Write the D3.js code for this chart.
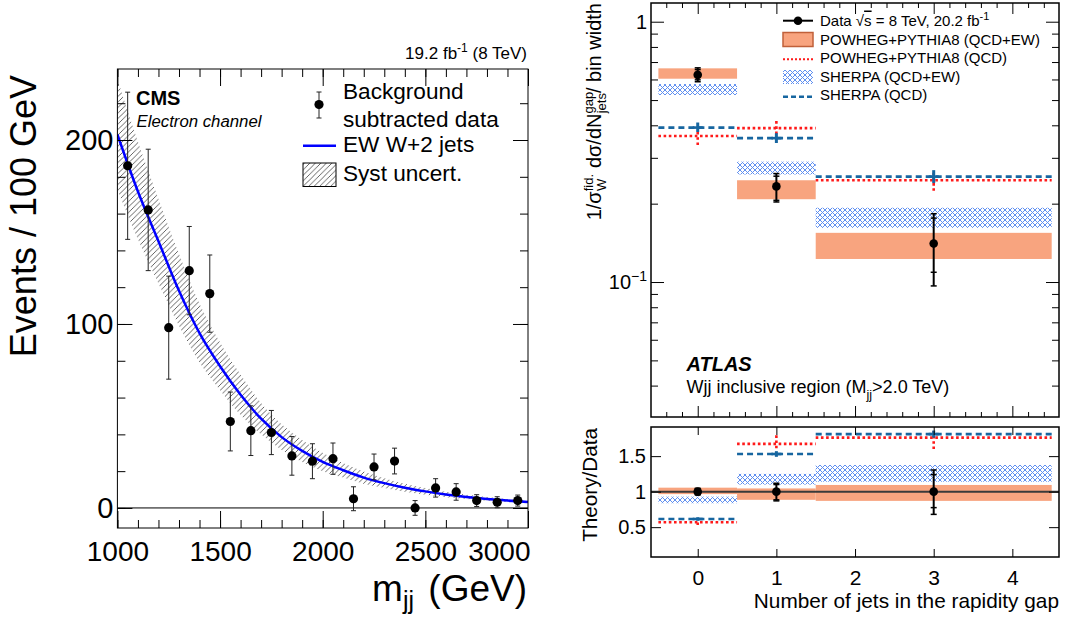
<!DOCTYPE html>
<html lang="en">
<head>
<meta charset="UTF-8">
<title>EW W+2 jets: CMS mjj and ATLAS rapidity gap jets</title>
<script src="https://d3js.org/d3.v7.min.js"></script>
<style>
  body { margin: 0; background: #fff; }
  svg { display: block; font-family: 'Liberation Sans', Arial, Helvetica, sans-serif; }
  .axis path.domain { display: none; }
  .axis line { stroke: #000; stroke-width: 1; }
</style>
</head>
<body>
<svg id="chart" width="1066" height="619"></svg>
<script>
// ---------- left panel data (CMS, electron channel) ----------
const mjjBins   = [1050, 1150, 1250, 1350, 1450, 1550, 1650, 1750, 1850, 1950,
                   2050, 2150, 2250, 2350, 2450, 2550, 2650, 2750, 2850, 2950];
const evData    = [186, 162, 98, 129, 116.5, 47, 42, 41, 28.3, 25.4,
                   26.8, 5, 22.3, 25.5, 0, 10.9, 8.7, 4, 3.1, 4];
const evErr     = [40, 33, 28, 24, 21, 16, 13.5, 12, 10.5, 9.5,
                   8.5, 6.5, 7, 7, 4, 5, 4.5, 3.2, 3, 3];
const mjjCurve  = [1000, 1100, 1200, 1300, 1400, 1500, 1600, 1700, 1800, 1900, 2000,
                   2100, 2200, 2300, 2400, 2500, 2600, 2700, 2800, 2900, 3000];
const ewCurve   = [203, 172, 145, 118, 95, 77, 61.5, 48.5, 38.5, 31, 25,
                   20.5, 16.5, 13.5, 11, 9, 7.3, 6, 4.9, 4, 3.2];
const ewUp      = [233, 199, 168, 138, 111, 90, 72.5, 57, 45.5, 37, 30,
                   24.5, 19.8, 16.2, 13.2, 10.8, 8.8, 7.2, 5.9, 4.8, 3.9];
const ewDn      = [173, 146, 122, 99, 79, 64, 50.5, 40, 31.5, 25, 20,
                   16.5, 13.2, 10.8, 8.8, 7.2, 5.8, 4.8, 3.9, 3.2, 2.5];
const mjjMajor  = [1000, 1500, 2000, 2500, 3000];
const evMajor   = [0, 100, 200];

// ---------- right panel data (ATLAS, Wjj inclusive, Mjj > 2 TeV) ----------
const nGap      = [0, 1, 3];
const binLo     = [-0.5, 0.5, 1.5];
const binHi     = [0.5, 1.5, 4.5];
const dataVal   = [0.625, 0.233, 0.1405];
const dataLo    = [0.588, 0.203, 0.0966];
const dataHi    = [0.665, 0.261, 0.183];
const statLo    = [0.598, 0.206, 0.109];
const statHi    = [0.655, 0.255, 0.176];
const powEWLo   = [0.604, 0.208, 0.1226];
const powEWHi   = [0.662, 0.246, 0.1545];
const sheEWLo   = [0.523, 0.259, 0.1614];
const sheEWHi   = [0.576, 0.290, 0.193];
const powQCD    = [0.364, 0.390, 0.246];
const powQCDLo  = [0.336, 0.370, 0.224];
const powQCDHi  = [0.379, 0.419, 0.269];
const sheQCD    = [0.392, 0.357, 0.254];
const sheQCDLo  = [0.377, 0.342, 0.240];
const sheQCDHi  = [0.410, 0.373, 0.269];

// ratio Theory/Data
const rDataLo   = [0.953, 0.870, 0.680];
const rDataHi   = [1.047, 1.118, 1.305];
const rStatLo   = [0.965, 0.885, 0.775];
const rStatHi   = [1.035, 1.100, 1.240];
const rPowEWLo  = [0.965, 0.885, 0.870];
const rPowEWHi  = [1.056, 1.045, 1.094];
const rSheEWLo  = [0.837, 1.100, 1.140];
const rSheEWHi  = [0.930, 1.250, 1.375];
const rPowQCD   = [0.570, 1.672, 1.760];
const rPowQCDLo = [0.530, 1.610, 1.600];
const rPowQCDHi = [0.620, 1.800, 1.850];
const rSheQCD   = [0.615, 1.530, 1.810];
const rSheQCDLo = [0.590, 1.490, 1.760];
const rSheQCDHi = [0.640, 1.570, 1.860];

const gapMajor  = [0, 1, 2, 3, 4];
const logMajor  = [0.1, 1];
const logMinor  = [0.04, 0.05, 0.06, 0.07, 0.08, 0.09, 0.2, 0.3, 0.4, 0.5, 0.6, 0.7, 0.8, 0.9];
const ratioMajor = [0.5, 1, 1.5];

const svg = d3.select("#chart");
const defs = svg.append("defs");

// hatch patterns
const hatch = defs.append("pattern").attr("id", "hatch")
    .attr("patternUnits", "userSpaceOnUse").attr("width", 5.5).attr("height", 5.5);
hatch.append("path").attr("d", "M-1,1 l2,-2 M0,5.5 l5.5,-5.5 M4.5,6.5 l2,-2")
    .attr("stroke", "#222").attr("stroke-width", 0.7);

const cross = defs.append("pattern").attr("id", "cross")
    .attr("patternUnits", "userSpaceOnUse").attr("width", 5).attr("height", 5);
cross.append("path").attr("d", "M0,0 L5,5 M5,0 L0,5")
    .attr("stroke", "#5f8ff0").attr("stroke-width", 1);

const orange = "#f8a47f";
const red = "#ff1a1a";
const blue = "#1766a0";

function styleAxis(g, size) {
    g.attr("class", "axis").attr("font-size", null).attr("font-family", null);
    g.selectAll("text").attr("font-size", size).attr("fill", "#000");
}

// ================= LEFT PANEL =================
const xL = d3.scaleLinear().domain([1000, 3000]).range([117.4, 528]);
const yL = d3.scaleLinear().domain([-10.9, 238.6]).range([528, 69]);
const gL = svg.append("g");

defs.append("clipPath").attr("id", "clipL").append("rect")
    .attr("x", 117.4).attr("y", 69).attr("width", 410.6).attr("height", 459);

const plotL = gL.append("g").attr("clip-path", "url(#clipL)");

const curvePts = mjjCurve.map((m, i) => ({ m, v: ewCurve[i], up: ewUp[i], dn: ewDn[i] }));

plotL.append("path")
    .datum(curvePts)
    .attr("fill", "url(#hatch)")
    .attr("d", d3.area().curve(d3.curveMonotoneX)
        .x(d => xL(d.m)).y0(d => yL(d.dn)).y1(d => yL(d.up)));

plotL.append("line")
    .attr("x1", xL(1000)).attr("x2", xL(3000))
    .attr("y1", yL(0)).attr("y2", yL(0))
    .attr("stroke", "#000").attr("stroke-width", 1);

plotL.append("path")
    .datum(curvePts)
    .attr("fill", "none").attr("stroke", "#0000ff").attr("stroke-width", 2.5)
    .attr("d", d3.line().curve(d3.curveMonotoneX).x(d => xL(d.m)).y(d => yL(d.v)));

const pts = mjjBins.map((m, i) => ({ m, v: evData[i], e: evErr[i] }));
const eb = plotL.append("g").selectAll("g").data(pts).enter().append("g");
eb.append("line")
    .attr("x1", d => xL(d.m)).attr("x2", d => xL(d.m))
    .attr("y1", d => yL(d.v - d.e)).attr("y2", d => yL(d.v + d.e))
    .attr("stroke", "#222").attr("stroke-width", 1);
[-1, 1].forEach(s => {
    eb.append("line")
        .attr("x1", d => xL(d.m) - 2.5).attr("x2", d => xL(d.m) + 2.5)
        .attr("y1", d => yL(d.v + s * d.e)).attr("y2", d => yL(d.v + s * d.e))
        .attr("stroke", "#222").attr("stroke-width", 1);
});
eb.append("circle")
    .attr("cx", d => xL(d.m)).attr("cy", d => yL(d.v)).attr("r", 4.6).attr("fill", "#000");

// frame + axes
gL.append("rect").attr("x", 117.4).attr("y", 69).attr("width", 410.6).attr("height", 459)
    .attr("fill", "none").attr("stroke", "#000").attr("stroke-width", 1);

gL.append("g").attr("transform", "translate(0,528)")
    .call(d3.axisBottom(xL).tickValues(mjjMajor).tickSize(-17).tickPadding(13).tickFormat(d3.format("d")))
    .call(g => styleAxis(g, 28))
    .call(g => g.selectAll(".tick").filter(d => d === 3000).select("text")
        .attr("text-anchor", "end").attr("x", 2));
gL.append("g").attr("transform", "translate(0,528)")
    .call(d3.axisBottom(xL).ticks(20).tickSize(-8).tickFormat(""))
    .call(g => styleAxis(g, 10));
gL.append("g").attr("transform", "translate(0,69)")
    .call(d3.axisTop(xL).tickValues(mjjMajor).tickSize(-17).tickFormat(""))
    .call(g => styleAxis(g, 10));
gL.append("g").attr("transform", "translate(0,69)")
    .call(d3.axisTop(xL).ticks(20).tickSize(-8).tickFormat(""))
    .call(g => styleAxis(g, 10));
gL.append("g").attr("transform", "translate(117.4,0)")
    .call(d3.axisLeft(yL).tickValues(evMajor).tickSize(-15).tickPadding(4))
    .call(g => styleAxis(g, 29));
gL.append("g").attr("transform", "translate(117.4,0)")
    .call(d3.axisLeft(yL).tickValues(d3.range(0, 240, 20)).tickSize(-8).tickFormat(""))
    .call(g => styleAxis(g, 10));
gL.append("g").attr("transform", "translate(528,0)")
    .call(d3.axisRight(yL).tickValues(evMajor).tickSize(-15).tickFormat(""))
    .call(g => styleAxis(g, 10));
gL.append("g").attr("transform", "translate(528,0)")
    .call(d3.axisRight(yL).tickValues(d3.range(0, 240, 20)).tickSize(-8).tickFormat(""))
    .call(g => styleAxis(g, 10));

// axis titles
gL.append("text").attr("transform", "translate(36,75) rotate(-90)")
    .attr("text-anchor", "end").attr("font-size", 36).text("Events / 100 GeV");
const mx = gL.append("text").attr("x", 527).attr("y", 601)
    .attr("text-anchor", "end").attr("font-size", 37);
mx.append("tspan").text("m");
mx.append("tspan").attr("font-size", 25).attr("dy", 8).text("jj");
mx.append("tspan").attr("dy", -8).attr("dx", 4).text(" (GeV)");

const lumi = gL.append("text").attr("x", 527).attr("y", 59)
    .attr("text-anchor", "end").attr("font-size", 17);
lumi.append("tspan").text("19.2 fb");
lumi.append("tspan").attr("font-size", 12).attr("dy", -7).text("-1");
lumi.append("tspan").attr("dy", 7).text(" (8 TeV)");

gL.append("text").attr("x", 136).attr("y", 105).attr("font-size", 20)
    .attr("font-weight", "bold").text("CMS");
gL.append("text").attr("x", 136.5).attr("y", 127).attr("font-size", 16.8)
    .attr("font-style", "italic").text("Electron channel");

// legend
const legL = gL.append("g");
legL.append("line").attr("x1", 319).attr("x2", 319).attr("y1", 92).attr("y2", 118)
    .attr("stroke", "#222").attr("stroke-width", 1);
[92, 118].forEach(y => legL.append("line").attr("x1", 316.5).attr("x2", 321.5)
    .attr("y1", y).attr("y2", y).attr("stroke", "#222"));
legL.append("circle").attr("cx", 319).attr("cy", 104.5).attr("r", 4.6).attr("fill", "#000");
legL.append("text").attr("x", 343).attr("y", 99).attr("font-size", 22.6).text("Background");
legL.append("text").attr("x", 343).attr("y", 127).attr("font-size", 22.6).text("subtracted data");
legL.append("line").attr("x1", 303).attr("x2", 336).attr("y1", 145.7).attr("y2", 145.7)
    .attr("stroke", "#0000ff").attr("stroke-width", 2.5);
legL.append("text").attr("x", 343).attr("y", 152).attr("font-size", 22.6).text("EW W+2 jets");
legL.append("rect").attr("x", 303).attr("y", 163).attr("width", 33).attr("height", 23.5)
    .attr("fill", "url(#hatch)").attr("stroke", "#000").attr("stroke-width", 1);
legL.append("text").attr("x", 343).attr("y", 181).attr("font-size", 22.6).text("Syst uncert.");

// ================= RIGHT PANEL =================
const xR = d3.scaleLinear().domain([-0.594, 4.593]).range([651, 1059]);
const yU = d3.scaleLog().domain([0.0303, 1.18]).range([417, 3]);
const yR = d3.scaleLinear().domain([0.08, 1.91]).range([557, 427]);
const gR = svg.append("g");

defs.append("clipPath").attr("id", "clipU").append("rect")
    .attr("x", 651).attr("y", 3).attr("width", 408).attr("height", 414);
defs.append("clipPath").attr("id", "clipR").append("rect")
    .attr("x", 651).attr("y", 427).attr("width", 408).attr("height", 130);

const bins = nGap.map((n, i) => ({ n, lo: binLo[i], hi: binHi[i], i }));

function drawPanel(g, y, s) {
    // bands
    g.selectAll(".powEW").data(bins).enter().append("rect")
        .attr("x", d => xR(d.lo)).attr("width", d => xR(d.hi) - xR(d.lo))
        .attr("y", d => y(s.powEWHi[d.i])).attr("height", d => y(s.powEWLo[d.i]) - y(s.powEWHi[d.i]))
        .attr("fill", orange);
    g.selectAll(".sheEW").data(bins).enter().append("rect")
        .attr("x", d => xR(d.lo)).attr("width", d => xR(d.hi) - xR(d.lo))
        .attr("y", d => y(s.sheEWHi[d.i])).attr("height", d => y(s.sheEWLo[d.i]) - y(s.sheEWHi[d.i]))
        .attr("fill", "url(#cross)");
    if (s.unity) {
        g.append("line").attr("x1", 651).attr("x2", 1059)
            .attr("y1", y(1)).attr("y2", y(1)).attr("stroke", "#3a3a3a").attr("stroke-width", 2);
    }
    // powheg QCD: red dotted
    g.selectAll(".powQ").data(bins).enter().append("line")
        .attr("x1", d => xR(d.lo)).attr("x2", d => xR(d.hi))
        .attr("y1", d => y(s.powQCD[d.i])).attr("y2", d => y(s.powQCD[d.i]))
        .attr("stroke", red).attr("stroke-width", 2.6).attr("stroke-dasharray", "2.6,2.6");
    g.selectAll(".powQv").data(bins).enter().append("line")
        .attr("x1", d => xR(d.n)).attr("x2", d => xR(d.n))
        .attr("y1", d => y(s.powQCDLo[d.i])).attr("y2", d => y(s.powQCDHi[d.i]))
        .attr("stroke", red).attr("stroke-width", 2.6).attr("stroke-dasharray", "2.6,2.6");
    // sherpa QCD: blue dashed
    g.selectAll(".sheQ").data(bins).enter().append("line")
        .attr("x1", d => xR(d.lo)).attr("x2", d => xR(d.hi))
        .attr("y1", d => y(s.sheQCD[d.i])).attr("y2", d => y(s.sheQCD[d.i]))
        .attr("stroke", blue).attr("stroke-width", 2.6).attr("stroke-dasharray", "6,4");
    g.selectAll(".sheQv").data(bins).enter().append("line")
        .attr("x1", d => xR(d.n)).attr("x2", d => xR(d.n))
        .attr("y1", d => y(s.sheQCDLo[d.i])).attr("y2", d => y(s.sheQCDHi[d.i]))
        .attr("stroke", blue).attr("stroke-width", 3);
    g.selectAll(".sheQh").data(bins).enter().append("line")
        .attr("x1", d => xR(d.n) - 5).attr("x2", d => xR(d.n) + 5)
        .attr("y1", d => y(s.sheQCD[d.i])).attr("y2", d => y(s.sheQCD[d.i]))
        .attr("stroke", blue).attr("stroke-width", 2.6);
    // data
    const dg = g.selectAll(".data").data(bins).enter().append("g");
    dg.append("line")
        .attr("x1", d => xR(d.n)).attr("x2", d => xR(d.n))
        .attr("y1", d => y(s.dLo[d.i])).attr("y2", d => y(s.dHi[d.i]))
        .attr("stroke", "#000").attr("stroke-width", 2);
    [s.dLo, s.dHi, s.sLo, s.sHi].forEach(arr => {
        dg.append("line")
            .attr("x1", d => xR(d.n) - 3).attr("x2", d => xR(d.n) + 3)
            .attr("y1", d => y(arr[d.i])).attr("y2", d => y(arr[d.i]))
            .attr("stroke", "#000").attr("stroke-width", 1.5);
    });
    dg.append("circle").attr("cx", d => xR(d.n)).attr("cy", d => y(s.dVal[d.i]))
        .attr("r", 4.3).attr("fill", "#000");
}

drawPanel(gR.append("g").attr("clip-path", "url(#clipU)"), yU, {
    powEWLo, powEWHi, sheEWLo, sheEWHi, powQCD, powQCDLo, powQCDHi,
    sheQCD, sheQCDLo, sheQCDHi, dVal: dataVal, dLo: dataLo, dHi: dataHi, sLo: statLo, sHi: statHi
});
drawPanel(gR.append("g").attr("clip-path", "url(#clipR)"), yR, {
    powEWLo: rPowEWLo, powEWHi: rPowEWHi, sheEWLo: rSheEWLo, sheEWHi: rSheEWHi,
    powQCD: rPowQCD, powQCDLo: rPowQCDLo, powQCDHi: rPowQCDHi,
    sheQCD: rSheQCD, sheQCDLo: rSheQCDLo, sheQCDHi: rSheQCDHi,
    dVal: [1, 1, 1], dLo: rDataLo, dHi: rDataHi, sLo: rStatLo, sHi: rStatHi, unity: true
});

// frames
gR.append("rect").attr("x", 651).attr("y", 3).attr("width", 408).attr("height", 414)
    .attr("fill", "none").attr("stroke", "#000").attr("stroke-width", 1.5);
gR.append("rect").attr("x", 651).attr("y", 427).attr("width", 408).attr("height", 130)
    .attr("fill", "none").attr("stroke", "#000").attr("stroke-width", 1.5);

const gapMinor = d3.range(-0.4, 4.6, 0.2).filter(v => Math.abs(v - Math.round(v)) > 0.01);

// upper axes
[[417, d3.axisBottom], [3, d3.axisTop]].forEach(([yy, ax]) => {
    gR.append("g").attr("transform", `translate(0,${yy})`)
        .call(ax(xR).tickValues(gapMajor).tickSize(-11).tickFormat(""))
        .call(g => styleAxis(g, 10));
    gR.append("g").attr("transform", `translate(0,${yy})`)
        .call(ax(xR).tickValues(gapMinor).tickSize(-5).tickFormat(""))
        .call(g => styleAxis(g, 10));
});
gR.append("g").attr("transform", "translate(651,0)")
    .call(d3.axisLeft(yU).tickValues(logMajor).tickSize(-13).tickPadding(4).tickFormat(d => d === 1 ? "1" : ""))
    .call(g => styleAxis(g, 20))
    .call(g => g.selectAll(".tick").filter(d => d === 0.1).select("text").each(function () {
        const t = d3.select(this);
        t.append("tspan").text("10");
        t.append("tspan").attr("font-size", 14).attr("dy", -8).text("\u22121");
    }));
gR.append("g").attr("transform", "translate(651,0)")
    .call(d3.axisLeft(yU).tickValues(logMinor).tickSize(-7).tickFormat(""))
    .call(g => styleAxis(g, 10));
gR.append("g").attr("transform", "translate(1059,0)")
    .call(d3.axisRight(yU).tickValues(logMajor).tickSize(-13).tickFormat(""))
    .call(g => styleAxis(g, 10));
gR.append("g").attr("transform", "translate(1059,0)")
    .call(d3.axisRight(yU).tickValues(logMinor).tickSize(-7).tickFormat(""))
    .call(g => styleAxis(g, 10));

// ratio axes
gR.append("g").attr("transform", "translate(0,557)")
    .call(d3.axisBottom(xR).tickValues(gapMajor).tickSize(-8).tickPadding(13).tickFormat(d3.format("d")))
    .call(g => styleAxis(g, 21));
gR.append("g").attr("transform", "translate(0,427)")
    .call(d3.axisTop(xR).tickValues(gapMajor).tickSize(-8).tickFormat(""))
    .call(g => styleAxis(g, 10));
gR.append("g").attr("transform", "translate(651,0)")
    .call(d3.axisLeft(yR).tickValues(ratioMajor).tickSize(-10).tickPadding(5).tickFormat(d => String(d)))
    .call(g => styleAxis(g, 20));
gR.append("g").attr("transform", "translate(1059,0)")
    .call(d3.axisRight(yR).tickValues(ratioMajor).tickSize(-10).tickFormat(""))
    .call(g => styleAxis(g, 10));

// titles
const yt = gR.append("text").attr("transform", "translate(601,3) rotate(-90)")
    .attr("text-anchor", "end").attr("font-size", 20);
yt.append("tspan").text("1/\u03c3");
yt.append("tspan").attr("font-size", 13).attr("dy", -8).text("fid.");
yt.append("tspan").attr("font-size", 13).attr("dx", -17).attr("dy", 13).text("W");
yt.append("tspan").attr("dx", 5).attr("dy", -5).text(" d\u03c3/dN");
yt.append("tspan").attr("font-size", 13).attr("dy", -8).text("gap");
yt.append("tspan").attr("font-size", 13).attr("dx", -21.5).attr("dy", 13).text("jets");
yt.append("tspan").attr("dy", -5).text("/ bin width");

gR.append("text").attr("transform", "translate(597,428) rotate(-90)")
    .attr("text-anchor", "end").attr("font-size", 20.7).text("Theory/Data");
gR.append("text").attr("x", 1059).attr("y", 608).attr("text-anchor", "end")
    .attr("font-size", 20.8).text("Number of jets in the rapidity gap");

gR.append("text").attr("x", 686.5).attr("y", 371).attr("font-size", 20)
    .attr("font-weight", "bold").attr("font-style", "italic").text("ATLAS");
const reg = gR.append("text").attr("x", 686.5).attr("y", 393).attr("font-size", 18);
reg.append("tspan").text("Wjj inclusive region (M");
reg.append("tspan").attr("font-size", 12.5).attr("dy", 6).text("jj");
reg.append("tspan").attr("dy", -6).text(">2.0 TeV)");

// legend (right)
const legR = gR.append("g").attr("font-size", 15);
legR.append("line").attr("x1", 783).attr("x2", 813).attr("y1", 20.7).attr("y2", 20.7)
    .attr("stroke", "#000").attr("stroke-width", 2);
legR.append("circle").attr("cx", 798).attr("cy", 20.7).attr("r", 4.3).attr("fill", "#000");
const dl = legR.append("text").attr("x", 820).attr("y", 25.5);
dl.append("tspan").text("Data  \u221a");
dl.append("tspan").style("text-decoration", "overline").text("s");
dl.append("tspan").text(" = 8 TeV, 20.2 fb");
dl.append("tspan").attr("font-size", 11).attr("dy", -6).text("-1");

legR.append("rect").attr("x", 783).attr("y", 32.5).attr("width", 30).attr("height", 14)
    .attr("fill", orange).attr("stroke", "#c0603a").attr("stroke-width", 1.5);
legR.append("text").attr("x", 820).attr("y", 45).text("POWHEG+PYTHIA8 (QCD+EW)");
legR.append("line").attr("x1", 783).attr("x2", 813).attr("y1", 59.3).attr("y2", 59.3)
    .attr("stroke", red).attr("stroke-width", 2).attr("stroke-dasharray", "2,2");
legR.append("text").attr("x", 820).attr("y", 63).text("POWHEG+PYTHIA8 (QCD)");
legR.append("rect").attr("x", 783).attr("y", 70).attr("width", 30).attr("height", 14)
    .attr("fill", "url(#cross)");
legR.append("text").attr("x", 820).attr("y", 82).text("SHERPA (QCD+EW)");
legR.append("line").attr("x1", 783).attr("x2", 813).attr("y1", 96.7).attr("y2", 96.7)
    .attr("stroke", blue).attr("stroke-width", 2.5).attr("stroke-dasharray", "5,3");
legR.append("text").attr("x", 820).attr("y", 100).text("SHERPA (QCD)");
</script>
</body>
</html>
